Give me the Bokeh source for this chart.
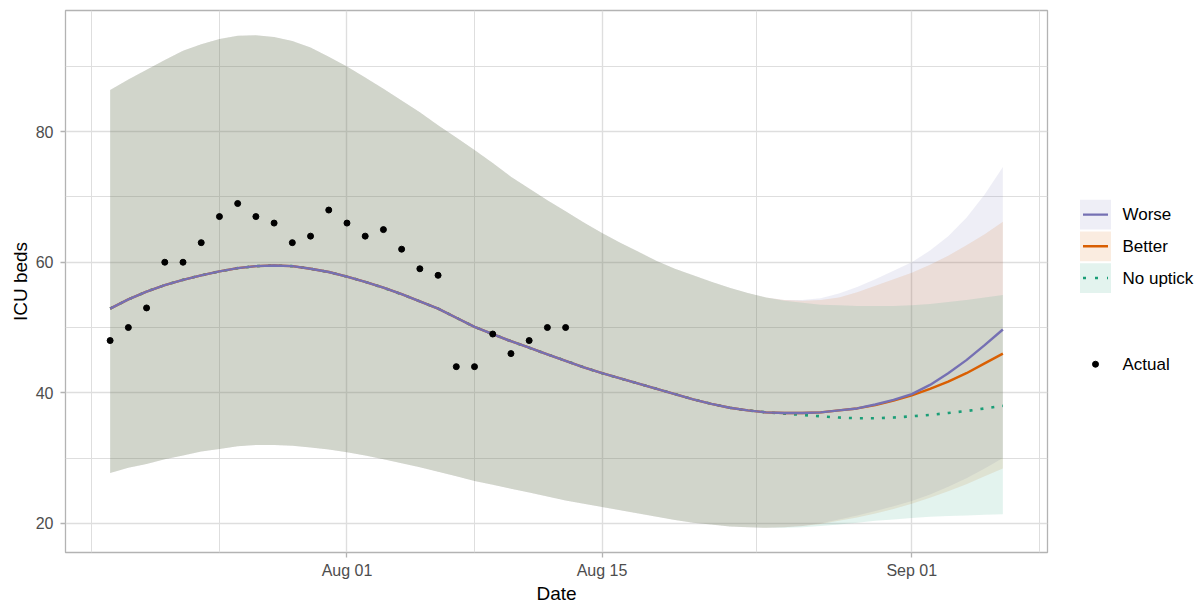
import pandas as pd
from bokeh.plotting import figure
from bokeh.layouts import row
from bokeh.models import Range1d, FixedTicker, DatetimeTickFormatter
from bokeh.core.properties import value
from bokeh.embed import file_html
from bokeh.resources import INLINE

FONT = "Liberation Sans"

# ---------------- data ----------------
dates = pd.date_range("2020-07-19", "2020-09-06", freq="D")
actual_dates = pd.date_range("2020-07-19", "2020-08-13", freq="D")
actual = [48, 50, 53, 60, 60, 63, 67, 69, 67, 66, 63, 64, 68, 66, 64, 65, 62,
          59, 58, 44, 44, 49, 46, 48, 50, 50]

worse_fit = [52.9, 54.3, 55.5, 56.5, 57.3, 58.0, 58.6, 59.1, 59.4, 59.5,
             59.4, 59.0, 58.5, 57.8, 57.0, 56.1, 55.1, 54.0, 52.9, 51.5,
             50.1, 49.0, 47.9, 46.9, 45.9, 44.9, 43.9, 43.0, 42.2, 41.4,
             40.6, 39.8, 39.0, 38.3, 37.7, 37.3, 37.0, 36.9, 36.9, 37.0,
             37.3, 37.6, 38.2, 38.9, 39.8, 41.2, 43.0, 45.0, 47.3, 49.7]
better_fit = [52.9, 54.3, 55.5, 56.5, 57.3, 58.0, 58.6, 59.1, 59.4, 59.5,
              59.4, 59.0, 58.5, 57.8, 57.0, 56.1, 55.1, 54.0, 52.9, 51.5,
              50.1, 49.0, 47.9, 46.9, 45.9, 44.9, 43.9, 43.0, 42.2, 41.4,
              40.6, 39.8, 39.0, 38.3, 37.7, 37.3, 37.0, 36.9, 36.9, 37.0,
              37.3, 37.6, 38.1, 38.8, 39.6, 40.6, 41.7, 43.0, 44.5, 46.0]
nouptick_fit = [52.9, 54.3, 55.5, 56.5, 57.3, 58.0, 58.6, 59.1, 59.4, 59.5,
                59.4, 59.0, 58.5, 57.8, 57.0, 56.1, 55.1, 54.0, 52.9, 51.5,
                50.1, 49.0, 47.9, 46.9, 45.9, 44.9, 43.9, 43.0, 42.2, 41.4,
                40.6, 39.8, 39.0, 38.3, 37.7, 37.3, 37.0, 36.8, 36.6, 36.4,
                36.2, 36.1, 36.1, 36.2, 36.4, 36.6, 36.9, 37.2, 37.6, 38.0]

common_upper = [86.4, 88.0, 89.5, 91.0, 92.4, 93.4, 94.2, 94.7, 94.8, 94.5,
                93.9, 92.9, 91.5, 90.0, 88.3, 86.6, 84.8, 83.0, 81.0, 79.1,
                77.2, 75.2, 73.1, 71.3, 69.5, 67.8, 66.1, 64.5, 63.0, 61.6,
                60.2, 59.0, 58.0, 57.0, 56.1, 55.3, 54.6]
common_lower = [27.7, 28.5, 29.1, 29.8, 30.4, 31.0, 31.4, 31.8, 32.0, 32.0,
                31.9, 31.6, 31.3, 30.9, 30.4, 29.8, 29.2, 28.6, 27.9, 27.2,
                26.5, 25.9, 25.3, 24.7, 24.1, 23.5, 23.0, 22.5, 22.0, 21.5,
                21.0, 20.5, 20.1, 19.8, 19.5, 19.4, 19.3]

worse_upper_tail = [54.2, 54.2, 54.5, 55.2, 56.2, 57.4, 58.7, 60.0, 61.8,
                    64.0, 66.8, 70.4, 74.6]
better_upper_tail = [54.2, 54.1, 54.2, 54.6, 55.4, 56.4, 57.4, 58.4, 59.6,
                     61.0, 62.6, 64.3, 66.2]
nouptick_upper_tail = [54.1, 53.8, 53.5, 53.4, 53.3, 53.3, 53.3, 53.4, 53.6,
                       53.9, 54.2, 54.6, 55.0]
worse_lower_tail = [19.4, 19.6, 20.0, 20.6, 21.2, 21.9, 22.6, 23.4, 24.4,
                    25.6, 26.9, 28.4, 30.0]
better_lower_tail = [19.4, 19.6, 19.9, 20.4, 20.9, 21.5, 22.2, 23.0, 23.9,
                     24.9, 26.0, 27.2, 28.4]
nouptick_lower_tail = [19.3, 19.4, 19.6, 19.8, 20.1, 20.4, 20.6, 20.8, 21.0,
                       21.1, 21.2, 21.3, 21.4]

scenarios = ["Worse", "Better", "No uptick"]
colors = ["#7570B3", "#D95F02", "#1B9E77"]
dashes = ["solid", "solid", "3 8"]
fits = [worse_fit, better_fit, nouptick_fit]
uppers = [common_upper + worse_upper_tail, common_upper + better_upper_tail,
          common_upper + nouptick_upper_tail]
lowers = [common_lower + worse_lower_tail, common_lower + better_lower_tail,
          common_lower + nouptick_lower_tail]

x_major = ["2020-08-01", "2020-08-15", "2020-09-01"]
x_minor = ["2020-07-18", "2020-07-25", "2020-08-08", "2020-08-23 12:00", "2020-09-08"]
y_major = [20, 40, 60, 80]
y_minor = [30, 50, 70, 90]


def ms(d):
    return pd.Timestamp(d).value / 1e6


# ggplot-style 5% expansion of ranges
x0, x1 = ms(dates[0]), ms(dates[-1])
xpad = (x1 - x0) * 0.05
all_y = actual + sum(uppers, []) + sum(lowers, [])
ylo, yhi = min(all_y), max(all_y)
ypad = (yhi - ylo) * 0.05

H = 606
TOP, BOTTOM = 10, 557
p = figure(width=1050, height=H, x_axis_type="datetime",
           x_range=Range1d(x0 - xpad, x1 + xpad),
           y_range=Range1d(ylo - ypad, yhi + ypad),
           output_backend="svg", toolbar_location=None, title=None,
           min_border_left=65, min_border_right=3, min_border_top=TOP,
           min_border_bottom=H - BOTTOM)

p.background_fill_color = "white"
p.border_fill_color = "white"
p.outline_line_color = "#B3B3B3"
p.outline_line_width = 1.3

# grids
p.xaxis.ticker = FixedTicker(ticks=[ms(d) for d in x_major],
                             minor_ticks=[ms(d) for d in x_minor])
p.yaxis.ticker = FixedTicker(ticks=y_major, minor_ticks=y_minor)
for g in (p.xgrid, p.ygrid):
    g.grid_line_color = "#DEDEDE"
    g.grid_line_width = 1.4
    g.minor_grid_line_color = "#DEDEDE"
    g.minor_grid_line_width = 1.0

fmt = "%b %d"
p.xaxis.formatter = DatetimeTickFormatter(days=fmt, months=fmt, years=fmt,
                                          hours=fmt, hourmin=fmt, minutes=fmt,
                                          minsec=fmt, seconds=fmt,
                                          milliseconds=fmt, microseconds=fmt)

for ax in (p.xaxis, p.yaxis):
    ax.axis_line_color = None
    ax.major_tick_line_color = "#B3B3B3"
    ax.major_tick_line_width = 1.3
    ax.major_tick_out = 5
    ax.major_tick_in = 0
    ax.minor_tick_line_color = None
    ax.major_label_text_font = FONT
    ax.major_label_text_font_size = "16px"
    ax.major_label_text_color = "#4D4D4D"
    ax.axis_label_text_font = FONT
    ax.axis_label_text_font_size = "19px"
    ax.axis_label_text_font_style = "normal"
    ax.axis_label_text_color = "black"
p.xaxis.major_label_standoff = 4
p.yaxis.major_label_standoff = 7
p.xaxis.axis_label = "Date"
p.yaxis.axis_label = "ICU beds"
p.xaxis.axis_label_standoff = 1
p.yaxis.axis_label_standoff = 2

# ribbons
for col, lo, up in zip(colors, lowers, uppers):
    p.varea(x=dates, y1=lo, y2=up, fill_color=col, fill_alpha=0.12)

# lines (green below, purple on top)
for i in (2, 1, 0):
    p.line(dates, fits[i], line_color=colors[i], line_width=2.4 if i < 2 else 2.6,
           line_dash=dashes[i])

p.scatter(actual_dates, actual, size=6, fill_color="black", line_color="black")

# ---------------- legend panel (frame aligned with main frame) ----------------
lg = figure(width=150, height=H, x_range=Range1d(0, 150),
            y_range=Range1d(BOTTOM, TOP),
            output_backend="svg", toolbar_location=None, title=None,
            x_axis_location=None, y_axis_location=None,
            min_border_left=0, min_border_right=0, min_border_top=TOP,
            min_border_bottom=H - BOTTOM)
lg.grid.visible = False
lg.outline_line_color = None
lg.background_fill_color = "white"
lg.border_fill_color = "white"

key_x, key_y, pitch = 45, 216, 32
key_ys = [key_y + i * pitch for i in range(len(scenarios))]
lg.rect(x=key_x, y=key_ys, width=31, height=30, fill_color=colors,
        fill_alpha=0.12, line_color=None)
for i, yy in enumerate(key_ys):
    lg.line(x=[key_x - 12.5, key_x + 12.5], y=[yy, yy], line_color=colors[i],
            line_width=2.4 if i < 2 else 2.6,
            line_dash="solid" if i < 2 else "3 9")
lg.text(x=72, y=key_ys, text=scenarios, text_font=value(FONT),
        text_font_size="17px", text_baseline="middle", text_color="black")

act_y = 367
lg.scatter(x=[key_x], y=[act_y], size=6, fill_color="black", line_color="black")
lg.text(x=[72], y=[act_y], text=["Actual"], text_font=value(FONT),
        text_font_size="17px", text_baseline="middle", text_color="black")

layout = row(p, lg, spacing=0)
open("out.html", "w").write(file_html(layout, INLINE))
